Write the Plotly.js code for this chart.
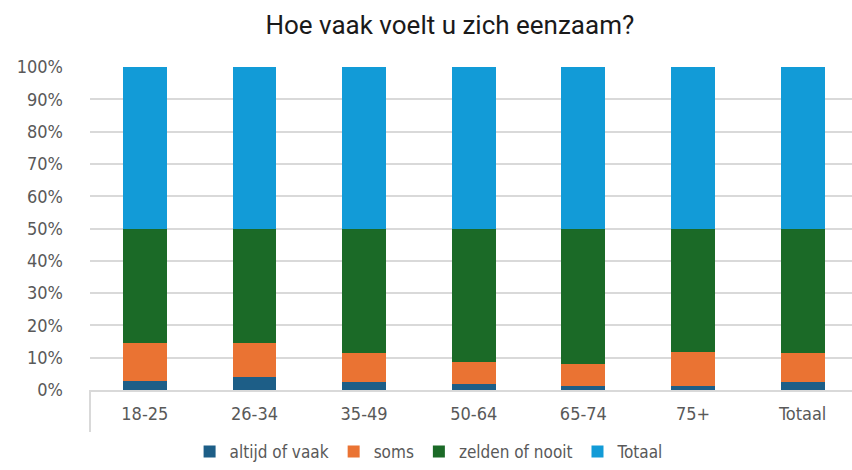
<!DOCTYPE html>
<html>
<head>
<meta charset="utf-8">
<script src="https://cdn.plot.ly/plotly-3.0.1.min.js"></script>
<style>html,body{margin:0;padding:0;background:#fff;}#chart{width:852px;height:470px;}</style>
</head>
<body>
<div id="chart"></div>
<script>
const categories = ["18-25", "26-34", "35-49", "50-64", "65-74", "75+", "Totaal"];
const altijdOfVaak = [2.9, 4.0, 2.4, 1.8, 1.2, 1.2, 2.4];
const soms = [11.7, 10.6, 9.0, 6.8, 6.8, 10.7, 9.0];
const zeldenOfNooit = [35.4, 35.4, 38.6, 41.4, 42.0, 38.1, 38.6];
const totaal = [50, 50, 50, 50, 50, 50, 50];
const yTickVals = [0, 10, 20, 30, 40, 50, 60, 70, 80, 90, 100];
const yTickText = ["0%", "10%", "20%", "30%", "40%", "50%", "60%", "70%", "80%", "90%", "100%"];

const font = "DejaVu Sans Condensed, Liberation Sans Narrow, Arial Narrow, sans-serif";
function tr(name, y, color) {
  return {type: "bar", name: name, x: categories, y: y, marker: {color: color, line: {width: 0}}, hoverinfo: "skip"};
}
const data = [
  tr("altijd of vaak", altijdOfVaak, "#1d5e87"),
  tr("soms", soms, "#ea7333"),
  tr("zelden of nooit", zeldenOfNooit, "#1b6a27"),
  tr("Totaal", totaal, "#129bd7")
];
const layout = {
  width: 852, height: 470,
  margin: {l: 90, r: 0, t: 67, b: 80, autoexpand: false},
  paper_bgcolor: "#fff", plot_bgcolor: "#fff",
  barmode: "stack", bargap: 0.6,
  title: {text: "Hoe vaak voelt u zich eenzaam?", x: 0.528, xanchor: "center", y: 0.946, yanchor: "middle",
          font: {family: "Roboto, Noto Sans, sans-serif", size: 26, color: "#1a1a1a"}},
  xaxis: {type: "category", range: [-0.5, 6.45], showgrid: false, showline: true, linecolor: "#d9d9d9", linewidth: 2,
          ticks: "", tickfont: {family: font, size: 18, color: "#595959"}, ticklabelstandoff: 6, fixedrange: true},
  yaxis: {range: [0, 100], tickvals: yTickVals, ticktext: yTickText, showgrid: true, gridcolor: "#d9d9d9", gridwidth: 2,
          zeroline: false, showline: false, ticks: "", tickfont: {family: font, size: 18, color: "#595959"},
          ticklabelstandoff: 26, fixedrange: true},
  legend: {orientation: "h", x: 0.445, xanchor: "center", yref: "container", y: -0.01, yanchor: "bottom", traceorder: "normal",
           font: {family: font, size: 17, color: "#595959"}, itemwidth: 30, itemclick: false},
  shapes: [{type: "line", xref: "paper", yref: "paper", x0: 0, x1: 0, y0: 0, y1: -0.13, line: {color: "#d9d9d9", width: 2}}],
  showlegend: true
};
Plotly.newPlot("chart", data, layout, {displayModeBar: false, staticPlot: true});
</script>
</body>
</html>
